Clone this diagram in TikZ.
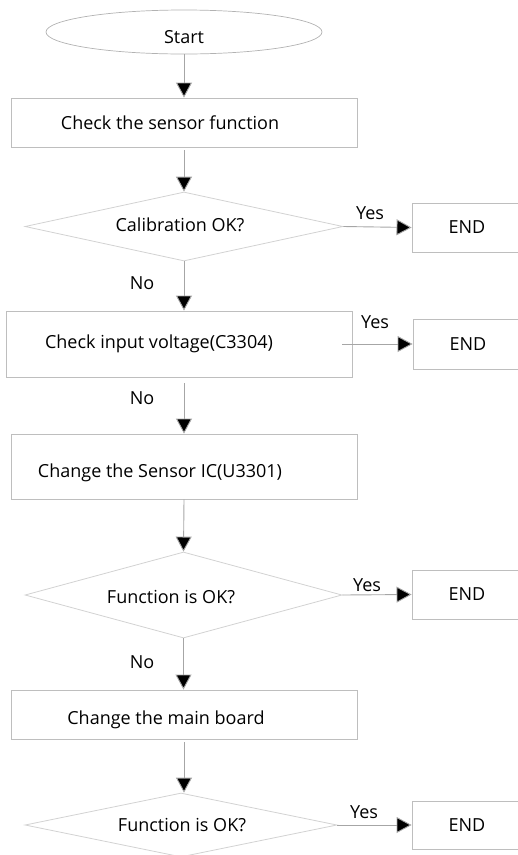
\documentclass[tikz,border=0pt]{standalone}
\usepackage{fontspec}
\setmainfont{Open Sans}
\usetikzlibrary{arrows.meta,shapes.geometric}
\definecolor{edgegray}{HTML}{BEBEBE}
\definecolor{diagray}{HTML}{D2D2D2}
\definecolor{linegray}{HTML}{A6A6A6}

\begin{document}
\begin{tikzpicture}[x=1pt, y=-1pt,
    font=\fontsize{18}{21}\selectfont,
    stepbox/.style={draw=edgegray, line width=0.9pt, rectangle, inner sep=0pt, minimum width=346pt},
    endbox/.style={draw=edgegray, line width=0.9pt, rectangle, inner sep=0pt, minimum width=110pt, minimum height=49pt},
    decision/.style={draw=diagray, line width=0.8pt, diamond, inner sep=0pt, aspect=4.5},
    flow/.style={draw=linegray, line width=0.9pt, -{Triangle[length=15pt, width=16pt, fill=black]}},
    txt/.style={inner sep=0pt}]
  \useasboundingbox (0,0) rectangle (518,855);

  % Start
  \node[draw=gray!60, line width=0.7pt, ellipse, minimum width=276pt, minimum height=44pt] (start) at (184,32) {};
  \node[txt] (tstart) at (184,37) {Start};

  % Check the sensor function
  \node[stepbox, minimum height=49pt] (chk) at (184,122.5) {};
  \node[txt] (tchk) at (170,123) {Check the sensor function};

  % Calibration OK?
  \node[decision, minimum width=318pt, minimum height=69pt] (cal) at (184,226.5) {};
  \node[txt] (tcal) at (180,225) {Calibration OK?};
  \node[endbox] (end1) at (467,227.5) {END};

  % Check input voltage
  \node[stepbox, minimum height=66pt] (volt) at (179,344) {};
  \node[txt] (tvolt) at (159,344) {Check input voltage(C3304)};
  \node[endbox, minimum height=50pt] (end2) at (468,344) {END};

  % Change the Sensor IC
  \node[stepbox, minimum height=65pt] (ic) at (184,466.5) {};
  \node[txt] (tic) at (160,473) {Change the Sensor IC(U3301)};

  % Function is OK? (first)
  \node[decision, minimum width=317pt, minimum height=86pt] (fun1) at (183.5,595) {};
  \node[txt] (tfun1) at (171,597) {Function is OK?};
  \node[endbox] (end3) at (467,594.5) {END};

  % Change the main board
  \node[stepbox, minimum height=49pt] (board) at (184,714.5) {};
  \node[txt] (tboard) at (166,720) {Change the main board};

  % Function is OK? (second)
  \node[decision, minimum width=312pt, minimum height=64pt] (fun2) at (181,825) {};
  \node[txt] (tfun2) at (182,825) {Function is OK?};
  \node[endbox, minimum height=48pt] (end4) at (467,825) {END};

  % arrows down
  \draw[flow] (start.south) -- (start.south |- chk.north);
  \draw[flow] ([yshift=-3pt]chk.south) -- (cal.north);
  \draw[flow] (cal.south) -- (cal.south |- volt.north);
  \draw[flow] ([yshift=-6pt]volt.south -| cal.south) -- (cal.south |- ic.north);
  \draw[flow] (ic.south) -- (fun1.north);
  \draw[flow] (fun1.south) -- (fun1.south |- board.north);
  \draw[flow] ([yshift=-3pt]board.south) -- (board.south |- fun2.north);

  % yes branches
  \draw[flow] (cal.east) -- (end1.west);
  \draw[flow] ([xshift=-10pt]volt.east) -- (end2.west);
  \draw[flow] (fun1.east) -- (end3.west);
  \draw[flow] (fun2.east) -- (end4.west);

  % labels
  \node[txt] (y1) at (370,213) {Yes};
  \node[txt] (y2) at (375,322) {Yes};
  \node[txt] (y3) at (367,585) {Yes};
  \node[txt] (y4) at (364,812) {Yes};
  \node[txt] (n1) at (142,283) {No};
  \node[txt] (n2) at (142,398) {No};
  \node[txt] (n3) at (142,662) {No};
\end{tikzpicture}
\end{document}
